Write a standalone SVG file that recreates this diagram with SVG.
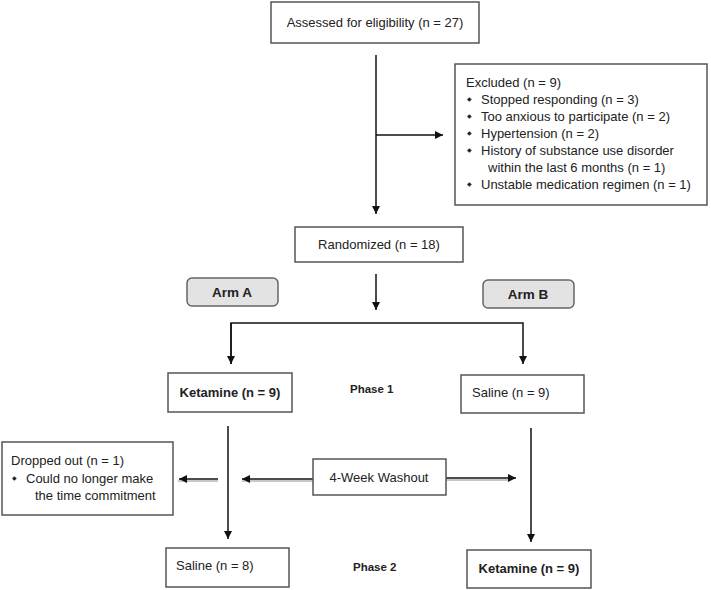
<svg xmlns="http://www.w3.org/2000/svg" width="711" height="590" viewBox="0 0 711 590">
<defs>
<style>
.box{fill:#fff;stroke:#555;stroke-width:1.5}
.arm{fill:#e3e3e3;stroke:#666;stroke-width:1.5}
.t{font-family:"Liberation Sans",Arial,sans-serif;font-size:13px;fill:#222}
.bul{font-family:"DejaVu Sans",sans-serif;font-size:6px;fill:#222}
.b{font-family:"Liberation Sans",Arial,sans-serif;font-size:13px;font-weight:bold;fill:#222}
.ab{font-family:"Liberation Sans",Arial,sans-serif;font-size:13.5px;font-weight:bold;fill:#222}
.ph{font-family:"Liberation Sans",Arial,sans-serif;font-size:11.5px;font-weight:bold;fill:#222}
.ln{stroke:#111;stroke-width:1.5;fill:none}
.sh{stroke:#c8c8c8;stroke-width:2;fill:none}
</style>
<marker id="ah" viewBox="0 0 10 10" refX="10" refY="5" markerWidth="8" markerHeight="8" markerUnits="userSpaceOnUse" orient="auto">
<path d="M0,0 L10,5 L0,10 z" fill="#111"/>
</marker>
</defs>
<rect width="711" height="590" fill="#fff"/>
<g id="connectors">
<line class="ln" x1="376" y1="55" x2="376" y2="214" marker-end="url(#ah)"/>
<line class="ln" x1="376" y1="135" x2="443" y2="135" marker-end="url(#ah)"/>
<line class="ln" x1="376" y1="274" x2="376" y2="310" marker-end="url(#ah)"/>
<polyline class="ln" points="231,364 231,323 523,323 523,364" marker-end="url(#ah)"/>
<line class="ln" x1="231" y1="323" x2="231" y2="364" marker-end="url(#ah)"/>
<line class="ln" x1="228" y1="426" x2="228" y2="539" marker-end="url(#ah)"/>
<line class="ln" x1="531" y1="428" x2="531" y2="542" marker-end="url(#ah)"/>
<line class="sh" x1="218" y1="481" x2="178" y2="481"/>
<line class="ln" x1="218" y1="479" x2="179" y2="479" marker-end="url(#ah)"/>
<line class="sh" x1="314" y1="481" x2="242" y2="481"/>
<line class="ln" x1="315" y1="479" x2="242" y2="479" marker-end="url(#ah)"/>
<line class="sh" x1="440" y1="480" x2="510" y2="480"/>
<line class="ln" x1="440" y1="478" x2="516" y2="478" marker-end="url(#ah)"/>
</g>
<g id="assessed">
<rect class="box" x="271" y="2" width="208" height="41"/>
<text class="t" x="375" y="27" text-anchor="middle">Assessed for eligibility (n = 27)</text>
</g>
<g id="excluded">
<rect class="box" x="455" y="64" width="252" height="141"/>
<text class="t" x="466" y="87">Excluded (n = 9)</text>
<text class="bul" x="467" y="101">◆</text>
<text class="t" x="481" y="104">Stopped responding (n = 3)</text>
<text class="bul" x="467" y="118">◆</text>
<text class="t" x="481" y="121">Too anxious to participate (n = 2)</text>
<text class="bul" x="467" y="135">◆</text>
<text class="t" x="481" y="138">Hypertension (n = 2)</text>
<text class="bul" x="467" y="152">◆</text>
<text class="t" x="481" y="155">History of substance use disorder</text>
<text class="t" x="488" y="172">within the last 6 months  (n = 1)</text>
<text class="bul" x="467" y="186">◆</text>
<text class="t" x="481" y="189">Unstable medication regimen (n = 1)</text>
</g>
<g id="randomized">
<rect class="box" x="295" y="227" width="168" height="35"/>
<text class="t" x="379" y="249" text-anchor="middle">Randomized (n = 18)</text>
</g>
<g id="armA">
<rect class="arm" x="187" y="278" width="91" height="28" rx="5"/>
<text class="ab" x="232" y="297" text-anchor="middle">Arm A</text>
</g>
<g id="armB">
<rect class="arm" x="483" y="280" width="91" height="28" rx="5"/>
<text class="ab" x="528" y="299" text-anchor="middle">Arm B</text>
</g>
<g id="ketamine1">
<rect class="box" x="168" y="373" width="124" height="39"/>
<text class="b" x="230" y="397" text-anchor="middle">Ketamine (n = 9)</text>
</g>
<g id="phase1">
<text class="ph" x="350" y="393">Phase 1</text>
</g>
<g id="saline1">
<rect class="box" x="461" y="375" width="123" height="38"/>
<text class="t" x="472" y="397">Saline (n = 9)</text>
</g>
<g id="dropped">
<rect class="box" x="2" y="442" width="171" height="73"/>
<text class="t" x="11" y="465">Dropped out (n = 1)</text>
<text class="bul" x="12" y="480">◆</text>
<text class="t" x="26" y="483">Could no longer make</text>
<text class="t" x="35" y="500">the time commitment</text>
</g>
<g id="washout">
<rect class="box" x="313" y="459" width="133" height="36"/>
<text class="t" x="379" y="482" text-anchor="middle">4-Week Washout</text>
</g>
<g id="saline2">
<rect class="box" x="166" y="548" width="123" height="39"/>
<text class="t" x="176" y="570">Saline (n = 8)</text>
</g>
<g id="phase2">
<text class="ph" x="353" y="571">Phase 2</text>
</g>
<g id="ketamine2">
<rect class="box" x="467" y="550" width="124" height="38"/>
<text class="b" x="529" y="573" text-anchor="middle">Ketamine (n = 9)</text>
</g>
</svg>
